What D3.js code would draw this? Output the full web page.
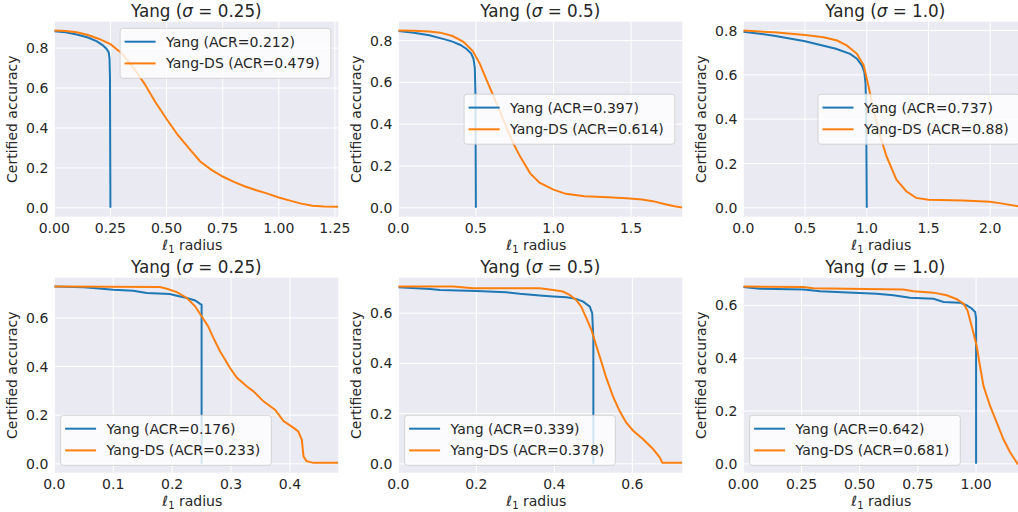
<!DOCTYPE html>
<html>
<head>
<meta charset="utf-8">
<script src="https://cdnjs.cloudflare.com/ajax/libs/d3/7.8.5/d3.min.js"></script>
<style>
  body { margin: 0; background: #ffffff; }
  text { font-family: "DejaVu Sans", sans-serif; fill: #262626; }
</style>
</head>
<body>
<div id="chart"></div>
<script>
// sigma of each panel (row-major: top row then bottom row)
const sigmas = ["0.25", "0.5", "1.0", "0.25", "0.5", "1.0"];
const yangAcr = ["0.212", "0.397", "0.737", "0.176", "0.339", "0.642"];
const dsAcr = ["0.479", "0.614", "0.88", "0.233", "0.378", "0.681"];

// x axis limits and ticks
const xMax = [1.265, 1.83, 2.30, 0.482, 0.728, 1.22];
const xTicks = [
  [0, 0.25, 0.5, 0.75, 1.0, 1.25],
  [0, 0.5, 1.0, 1.5],
  [0, 0.5, 1.0, 1.5, 2.0],
  [0, 0.1, 0.2, 0.3, 0.4],
  [0, 0.2, 0.4, 0.6],
  [0, 0.25, 0.5, 0.75, 1.0]
];
const xTickDigits = [2, 1, 1, 1, 1, 2];
const yTicks = [0, 0.2, 0.4, 0.6, 0.8];

// [radius, certified accuracy]
const yang1 = [[0,0.884],[0.05,0.879],[0.1,0.868],[0.15,0.853],[0.19,0.834],[0.215,0.815],[0.232,0.797],[0.242,0.78],[0.246,0.75],[0.248,0.65],[0.249,0.3],[0.25,0.0]];
const ds1 = [[0,0.888],[0.05,0.886],[0.1,0.879],[0.15,0.866],[0.2,0.846],[0.25,0.82],[0.3,0.775],[0.35,0.705],[0.4,0.625],[0.45,0.53],[0.5,0.445],[0.55,0.365],[0.6,0.298],[0.65,0.232],[0.7,0.19],[0.75,0.157],[0.8,0.13],[0.85,0.107],[0.9,0.088],[0.95,0.071],[1.0,0.052],[1.05,0.036],[1.1,0.021],[1.15,0.011],[1.2,0.007],[1.265,0.006]];

const yang2 = [[0,0.846],[0.1,0.838],[0.2,0.826],[0.3,0.806],[0.354,0.794],[0.4,0.779],[0.44,0.76],[0.47,0.738],[0.485,0.712],[0.493,0.67],[0.497,0.55],[0.5,0.0]];
const ds2 = [[0,0.848],[0.1,0.847],[0.2,0.843],[0.27,0.838],[0.35,0.822],[0.42,0.794],[0.48,0.75],[0.525,0.69],[0.57,0.61],[0.61,0.54],[0.655,0.46],[0.7,0.38],[0.74,0.31],[0.785,0.245],[0.85,0.165],[0.91,0.12],[1.0,0.087],[1.08,0.067],[1.2,0.056],[1.35,0.051],[1.47,0.046],[1.57,0.04],[1.64,0.032],[1.72,0.017],[1.78,0.008],[1.83,0.002]];

const yang3 = [[0,0.795],[0.25,0.777],[0.5,0.752],[0.75,0.718],[0.865,0.695],[0.92,0.673],[0.96,0.643],[0.98,0.613],[0.99,0.56],[0.995,0.45],[1.0,0.0]];
const ds3 = [[0,0.8],[0.25,0.792],[0.5,0.78],[0.65,0.77],[0.76,0.755],[0.84,0.732],[0.92,0.695],[0.975,0.643],[1.015,0.546],[1.055,0.441],[1.11,0.321],[1.16,0.232],[1.24,0.127],[1.32,0.075],[1.4,0.045],[1.5,0.037],[1.78,0.033],[2.0,0.027],[2.1,0.019],[2.23,0.007],[2.3,0.003]];

const yang4 = [[0,0.729],[0.05,0.726],[0.066,0.723],[0.1,0.716],[0.134,0.712],[0.157,0.703],[0.196,0.698],[0.208,0.691],[0.225,0.682],[0.239,0.672],[0.248,0.657],[0.25,0.655],[0.25,0.0]];
const ds4 = [[0,0.729],[0.09,0.728],[0.179,0.727],[0.191,0.72],[0.208,0.706],[0.225,0.682],[0.239,0.648],[0.25,0.607],[0.261,0.566],[0.27,0.518],[0.281,0.464],[0.298,0.395],[0.31,0.354],[0.327,0.318],[0.338,0.298],[0.355,0.257],[0.375,0.222],[0.389,0.176],[0.405,0.15],[0.414,0.133],[0.42,0.1],[0.423,0.03],[0.428,0.011],[0.44,0.004],[0.482,0.004]];

const yang5 = [[0,0.703],[0.081,0.696],[0.107,0.692],[0.2,0.688],[0.277,0.683],[0.311,0.677],[0.363,0.67],[0.397,0.666],[0.431,0.663],[0.456,0.657],[0.474,0.646],[0.491,0.626],[0.497,0.6],[0.5,0.5],[0.5,0.0]];
const ds5 = [[0,0.706],[0.141,0.706],[0.192,0.699],[0.363,0.699],[0.397,0.692],[0.422,0.686],[0.439,0.673],[0.456,0.653],[0.469,0.626],[0.482,0.58],[0.495,0.534],[0.508,0.468],[0.52,0.409],[0.533,0.343],[0.55,0.27],[0.567,0.211],[0.584,0.165],[0.602,0.132],[0.627,0.099],[0.653,0.059],[0.67,0.026],[0.677,0.004],[0.728,0.004]];

const yang6 = [[0,0.669],[0.072,0.663],[0.258,0.66],[0.33,0.653],[0.473,0.648],[0.573,0.644],[0.645,0.638],[0.716,0.629],[0.817,0.625],[0.86,0.613],[0.931,0.61],[0.96,0.6],[0.981,0.588],[0.996,0.575],[1.0,0.55],[1.0,0.0]];
const ds6 = [[0,0.671],[0.258,0.669],[0.301,0.665],[0.444,0.663],[0.688,0.66],[0.731,0.653],[0.817,0.648],[0.874,0.638],[0.917,0.623],[0.946,0.606],[0.963,0.581],[0.974,0.544],[0.989,0.494],[1.003,0.444],[1.017,0.369],[1.032,0.294],[1.06,0.219],[1.089,0.156],[1.117,0.094],[1.146,0.044],[1.178,0.0],[1.22,0.0]];

const yangSeries = [yang1, yang2, yang3, yang4, yang5, yang6];
const dsSeries = [ds1, ds2, ds3, ds4, ds5, ds6];

// layout (pixels)
const plotLefts = [54.3, 398.3, 743.3];
const plotTops = [21.7, 277.7];
const plotW = 284;
const plotH = 195;
const legendLoc = ["upper right", "center right", "center right", "lower left", "lower left", "lower left"];
const blue = "#1f77b4";
const orange = "#ff7f0e";

const svg = d3.select("#chart")
  .append("svg")
  .attr("width", 1018)
  .attr("height", 512);

const line = d3.line();

const drawPanel = (i) => {
  const left = plotLefts[i % 3];
  const top = plotTops[Math.floor(i / 3)];
  const yMaxData = d3.max(yangSeries[i].concat(dsSeries[i]), d => d[1]);

  const x = d3.scaleLinear()
    .domain([0, xMax[i]])
    .range([left, left + plotW]);
  const y = d3.scaleLinear()
    .domain([-0.05 * yMaxData, 1.05 * yMaxData])
    .range([top + plotH, top]);

  // background
  svg.append("rect")
    .attr("x", left).attr("y", top)
    .attr("width", plotW).attr("height", plotH)
    .attr("fill", "#eaeaf2");

  const yTickVals = yTicks.filter(t => t <= y.domain()[1]);

  // grid
  svg.append("g")
    .selectAll("line")
    .data(xTicks[i])
    .enter()
    .append("line")
    .attr("x1", d => x(d)).attr("x2", d => x(d))
    .attr("y1", top).attr("y2", top + plotH)
    .attr("stroke", "#ffffff").attr("stroke-width", 1);
  svg.append("g")
    .selectAll("line")
    .data(yTickVals)
    .enter()
    .append("line")
    .attr("x1", left).attr("x2", left + plotW)
    .attr("y1", d => y(d)).attr("y2", d => y(d))
    .attr("stroke", "#ffffff").attr("stroke-width", 1);

  // tick labels
  svg.append("g")
    .selectAll("text")
    .data(xTicks[i])
    .enter()
    .append("text")
    .attr("x", d => x(d))
    .attr("y", top + plotH + 16.7)
    .attr("text-anchor", "middle")
    .attr("font-size", 14)
    .text(d => d.toFixed(xTickDigits[i]));
  svg.append("g")
    .selectAll("text")
    .data(yTickVals)
    .enter()
    .append("text")
    .attr("x", left - 6)
    .attr("y", d => y(d))
    .attr("dy", "0.36em")
    .attr("text-anchor", "end")
    .attr("font-size", 14)
    .text(d => d.toFixed(1));

  // axis labels
  const xl = svg.append("text")
    .attr("x", left + plotW / 2 - 4)
    .attr("y", top + plotH + 33.5)
    .attr("text-anchor", "middle")
    .attr("font-size", 14);
  xl.append("tspan").text("ℓ");
  xl.append("tspan").attr("font-size", 10).attr("dy", 3).text("1");
  xl.append("tspan").attr("dy", -3).text(" radius");

  svg.append("text")
    .attr("transform", `translate(${left - 37},${top + plotH / 2}) rotate(-90)`)
    .attr("text-anchor", "middle")
    .attr("font-size", 14)
    .text("Certified accuracy");

  // title
  const title = svg.append("text")
    .attr("x", left + plotW / 2)
    .attr("y", top - 5)
    .attr("text-anchor", "middle")
    .attr("font-size", 16.8);
  title.append("tspan").text("Yang (");
  title.append("tspan").attr("font-style", "italic").text("σ");
  title.append("tspan").text(" = " + sigmas[i] + ")");

  // lines
  svg.append("clipPath")
    .attr("id", "clip" + i)
    .append("rect")
    .attr("x", left).attr("y", top)
    .attr("width", plotW).attr("height", plotH);

  line.x(d => x(d[0])).y(d => y(d[1]));
  const lines = svg.append("g").attr("clip-path", `url(#clip${i})`);
  lines.append("path")
    .datum(yangSeries[i])
    .attr("fill", "none")
    .attr("stroke", blue)
    .attr("stroke-width", 2)
    .attr("d", line);
  lines.append("path")
    .datum(dsSeries[i])
    .attr("fill", "none")
    .attr("stroke", orange)
    .attr("stroke-width", 2)
    .attr("d", line);

  // legend
  const legend = svg.append("g");
  const box = legend.append("rect")
    .attr("rx", 3).attr("ry", 3)
    .attr("fill", "#ffffff").attr("fill-opacity", 0.8)
    .attr("stroke", "#cccccc").attr("stroke-opacity", 0.8);
  const entries = [
    { label: `Yang (ACR=${yangAcr[i]})`, color: blue },
    { label: `Yang-DS (ACR=${dsAcr[i]})`, color: orange }
  ];
  let maxW = 0;
  entries.forEach((e, k) => {
    const cy = 13.4 + k * 21.7;
    legend.append("line")
      .attr("x1", 4.5).attr("x2", 35.5)
      .attr("y1", cy).attr("y2", cy)
      .attr("stroke", e.color).attr("stroke-width", 2);
    const t = legend.append("text")
      .attr("x", 46)
      .attr("y", cy)
      .attr("dy", "0.36em")
      .attr("font-size", 14)
      .text(e.label);
    maxW = Math.max(maxW, t.node().getComputedTextLength());
  });
  const bw = 46 + maxW + 11;
  const bh = 50;
  box.attr("width", bw).attr("height", bh);

  let lx, ly;
  if (legendLoc[i] === "upper right") {
    lx = left + plotW - 7.5 - bw; ly = top + 6.6;
  } else if (legendLoc[i] === "center right") {
    lx = left + plotW - 7.5 - bw; ly = top + plotH / 2 - bh / 2;
  } else {
    lx = left + 6.3; ly = top + plotH - 7.4 - bh;
  }
  legend.attr("transform", `translate(${lx},${ly})`);
};

for (let i = 0; i < 6; i++) {
  drawPanel(i);
}
</script>
</body>
</html>
